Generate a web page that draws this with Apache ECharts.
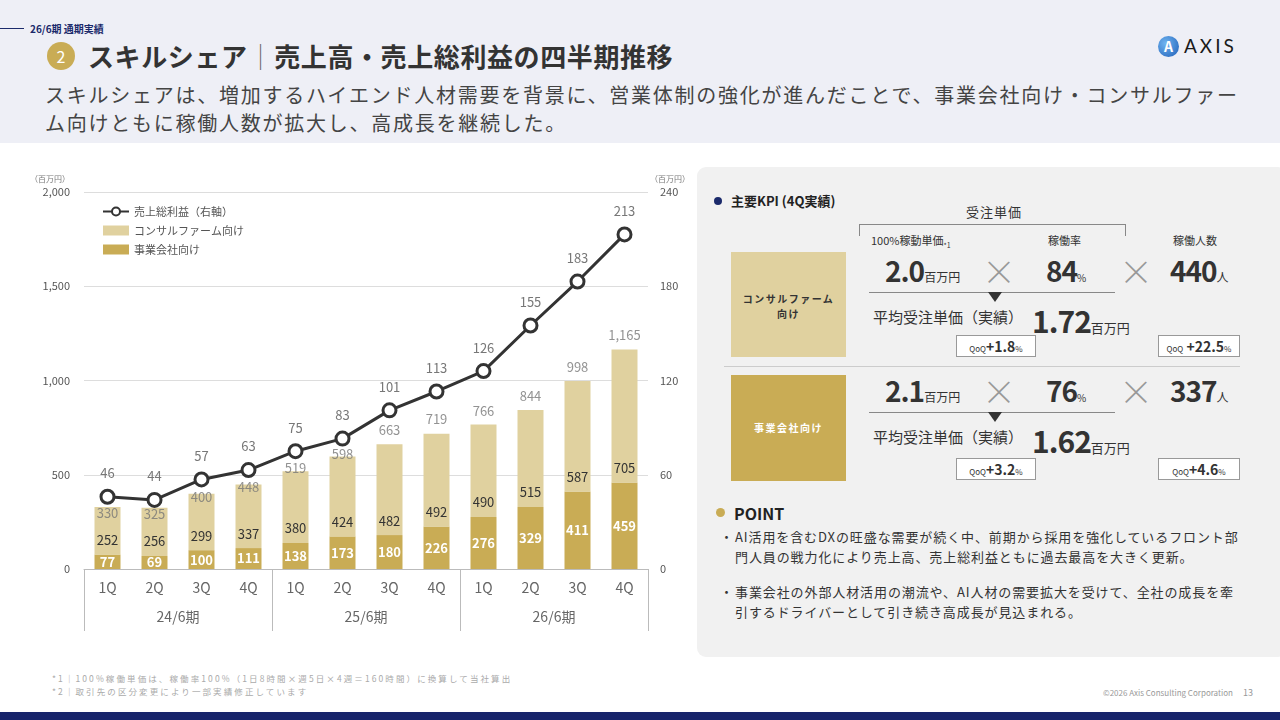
<!DOCTYPE html>
<html lang="ja">
<head>
<meta charset="utf-8">
<script src="https://cdn.jsdelivr.net/npm/echarts@6/dist/echarts.min.js"></script>
<style>
  html, body { margin:0; padding:0; width:1280px; height:720px; overflow:hidden; background:#fff;
    font-family:"Noto Sans CJK JP","Noto Sans",sans-serif; color:#333; }
  .abs { position:absolute; white-space:nowrap; }
  #header { position:absolute; left:0; top:0; width:1280px; height:143px; background:#eeeff6; }
  #panel { position:absolute; left:697px; top:167px; width:590px; height:490px; background:#f1f1f1; border-radius:9px; }
  #chart { position:absolute; left:0; top:150px; width:697px; height:500px; }
  .qoq { position:absolute; height:22px; width:80px; background:#fff; border:1px solid #999; box-sizing:border-box;
    text-align:center; line-height:20px; font-size:14px; font-weight:700; color:#333; }
  .qoq small { font-size:8px; font-weight:400; }
  .big { font-weight:700; font-size:28px; color:#333; letter-spacing:-1px; }
  .unit { font-size:12px; font-weight:400; color:#333; letter-spacing:0; }
  .times { font-size:34px; color:#999; font-weight:300; }
</style>
</head>
<body>
<div id="header"></div>
<div class="abs" style="left:0;top:28px;width:24px;height:1px;background:#1b2a6b;"></div>
<div class="abs" style="left:30px;top:21px;font-size:10px;font-weight:700;color:#1b2a6b;">26/6期 通期実績</div>
<div class="abs" style="left:47px;top:42px;width:28px;height:28px;border-radius:50%;background:#c9ac55;color:#fff;font-size:16px;line-height:28px;text-align:center;">2</div>
<div class="abs" style="left:88px;top:37px;font-size:26px;font-weight:700;color:#333;letter-spacing:0.6px;">スキルシェア<span style="font-weight:300;color:#666;">｜</span>売上高・売上総利益の四半期推移</div>
<div class="abs" style="left:45px;top:81px;font-size:20px;color:#444;letter-spacing:1.75px;line-height:28px;">スキルシェアは、増加するハイエンド人材需要を背景に、営業体制の強化が進んだことで、事業会社向け・コンサルファー<br>ム向けともに稼働人数が拡大し、高成長を継続した。</div>
<!-- logo -->
<div class="abs" style="left:1158px;top:36px;width:21px;height:21px;border-radius:50%;background:radial-gradient(circle at 35% 35%,#6fb4f0,#1f5fb8);color:#fff;font-size:14px;font-weight:700;line-height:21px;text-align:center;">A</div>
<div class="abs" style="left:1184px;top:34px;font-size:19px;color:#1a1a1a;letter-spacing:3px;font-family:'Lato','Noto Sans',sans-serif;">AXIS</div>

<div id="panel"></div>
<!-- KPI panel -->
<div class="abs" style="left:714px;top:197px;width:8px;height:8px;border-radius:50%;background:#1b2a6b;"></div>
<div class="abs" style="left:731px;top:191px;font-size:13px;font-weight:700;color:#222;">主要KPI (4Q実績)</div>
<div class="abs" style="left:966px;top:202px;font-size:13px;color:#333;letter-spacing:1px;">受注単価</div>
<div class="abs" style="left:859px;top:224px;width:267px;height:12px;border:1px solid #888;border-bottom:none;box-sizing:border-box;"></div>
<div class="abs" style="left:871px;top:232px;font-size:11px;color:#333;">100%稼動単価<sub style="font-size:7px;">*1</sub></div>
<div class="abs" style="left:1048px;top:232px;font-size:11px;color:#333;">稼働率</div>
<div class="abs" style="left:1173px;top:232px;font-size:11px;color:#333;">稼働人数</div>

<div class="abs" style="left:731px;top:252px;width:115px;height:105px;background:#e0d19f;"></div>
<div class="abs" style="left:731px;top:291px;width:115px;text-align:center;font-size:10px;font-weight:700;color:#333;line-height:15px;letter-spacing:1.5px;">コンサルファーム<br>向け</div>
<div class="abs big" style="left:885px;top:250px;">2.0<span class="unit">百万円</span></div>
<div class="abs times" style="left:982px;top:246px;">×</div>
<div class="abs big" style="left:1046px;top:250px;">84<span class="unit" style="font-size:10px;">%</span></div>
<div class="abs times" style="left:1119px;top:246px;">×</div>
<div class="abs big" style="left:1170px;top:250px;">440<span class="unit">人</span></div>
<div class="abs" style="left:869px;top:292px;width:246px;height:1px;background:#888;"></div>
<div class="abs" style="left:988px;top:292px;width:0;height:0;border-left:7px solid transparent;border-right:7px solid transparent;border-top:10px solid #333;"></div>
<div class="abs" style="left:873px;top:306px;font-size:15px;color:#333;">平均受注単価（実績）</div>
<div class="abs big" style="left:1032px;top:298px;font-size:30px;">1.72<span class="unit" style="font-size:13px;">百万円</span></div>
<div class="qoq" style="left:956px;top:335px;"><small>QoQ</small>+1.8<small>%</small></div>
<div class="qoq" style="left:1158px;top:335px;width:82px;"><small>QoQ</small> +22.5<small>%</small></div>

<div class="abs" style="left:724px;top:366px;width:516px;height:1px;background:#ccc;"></div>

<div class="abs" style="left:731px;top:375px;width:115px;height:106px;background:#c9ac55;"></div>
<div class="abs" style="left:731px;top:420px;width:115px;text-align:center;font-size:10px;font-weight:700;color:#fff;letter-spacing:1.5px;">事業会社向け</div>
<div class="abs big" style="left:885px;top:370px;">2.1<span class="unit">百万円</span></div>
<div class="abs times" style="left:982px;top:366px;">×</div>
<div class="abs big" style="left:1046px;top:370px;">76<span class="unit" style="font-size:10px;">%</span></div>
<div class="abs times" style="left:1119px;top:366px;">×</div>
<div class="abs big" style="left:1170px;top:370px;">337<span class="unit">人</span></div>
<div class="abs" style="left:869px;top:412px;width:246px;height:1px;background:#888;"></div>
<div class="abs" style="left:988px;top:412px;width:0;height:0;border-left:7px solid transparent;border-right:7px solid transparent;border-top:10px solid #333;"></div>
<div class="abs" style="left:873px;top:426px;font-size:15px;color:#333;">平均受注単価（実績）</div>
<div class="abs big" style="left:1032px;top:418px;font-size:30px;">1.62<span class="unit" style="font-size:13px;">百万円</span></div>
<div class="qoq" style="left:956px;top:458px;"><small>QoQ</small>+3.2<small>%</small></div>
<div class="qoq" style="left:1158px;top:458px;width:82px;"><small>QoQ</small>+4.6<small>%</small></div>

<div class="abs" style="left:716px;top:508px;width:9px;height:9px;border-radius:50%;background:#c9ac55;"></div>
<div class="abs" style="left:734px;top:501px;font-size:16px;font-weight:700;color:#222;">POINT</div>
<div class="abs" style="left:720px;top:527px;font-size:13px;color:#333;line-height:20px;">・</div>
<div class="abs" style="left:735px;top:527px;font-size:13px;color:#333;line-height:20px;letter-spacing:0.9px;">AI活用を含むDXの旺盛な需要が続く中、前期から採用を強化しているフロント部<br>門人員の戦力化により売上高、売上総利益ともに過去最高を大きく更新。</div>
<div class="abs" style="left:720px;top:582px;font-size:13px;color:#333;line-height:20px;">・</div>
<div class="abs" style="left:735px;top:582px;font-size:13px;color:#333;line-height:20px;letter-spacing:0.9px;">事業会社の外部人材活用の潮流や、AI人材の需要拡大を受けて、全社の成長を牽<br>引するドライバーとして引き続き高成長が見込まれる。</div>

<!-- footer -->
<div class="abs" style="left:52px;top:672px;font-size:8.5px;color:#aaa;line-height:13px;letter-spacing:2.1px;">*1｜100%稼働単価は、稼働率100%（1日8時間×週5日×4週＝160時間）に換算して当社算出<br>*2｜取引先の区分変更により一部実績修正しています</div>
<div class="abs" style="left:1103px;top:687px;font-size:8px;color:#999;">©2026 Axis Consulting Corporation</div>
<div class="abs" style="left:1243px;top:686px;font-size:9px;color:#999;">13</div>
<div class="abs" style="left:0;top:712px;width:1280px;height:8px;background:#17246b;"></div>

<div id="chart"></div>
<script>
// ---- data ----
const quarters = ['1Q','2Q','3Q','4Q','1Q','2Q','3Q','4Q','1Q','2Q','3Q','4Q'];
const fiscalYears = ['24/6期','25/6期','26/6期'];
const consultingRevenue = [252, 256, 299, 337, 380, 424, 482, 492, 490, 515, 587, 705];
const businessRevenue = [77, 69, 100, 111, 138, 173, 180, 226, 276, 329, 411, 459];
const totalRevenue = [330, 325, 400, 448, 519, 598, 663, 719, 766, 844, 998, 1165];
const grossProfit = [46, 44, 57, 63, 75, 83, 101, 113, 126, 155, 183, 213];
const leftTicks = {min:0, max:2000, interval:500};
const rightTicks = {min:0, max:240, interval:60};
// label nudges (style only) so early totals avoid the line
const totalLabelShift = [20, 20, 17, 17, 11, 12, 0, 0, 0, 0, 0, 0];

const C_BUS = '#c9ac55', C_CON = '#e0d19f';
const font = '"Noto Sans CJK JP","Noto Sans",sans-serif';
const chart = echarts.init(document.getElementById('chart'), null, {renderer:'canvas'});
chart.setOption({
  backgroundColor:'transparent',
  animation:false,
  textStyle:{fontFamily:font},
  grid:{left:84, right:49, top:42, bottom:81, containLabel:false},
  legend:{
    orient:'vertical', left:97, top:51, itemWidth:26, itemHeight:10, itemGap:8,
    textStyle:{fontSize:11, color:'#555', fontFamily:font},
    data:[
      {name:'売上総利益（右軸）'},
      {name:'コンサルファーム向け', icon:'rect'},
      {name:'事業会社向け', icon:'rect'}
    ]
  },
  xAxis:[
    {type:'category', data:quarters, position:'bottom',
     axisLine:{lineStyle:{color:'#bbb'}}, axisTick:{show:false},
     axisLabel:{fontSize:14, color:'#666', margin:12}},
    {type:'category', data:fiscalYears, position:'bottom',
     axisLine:{show:false},
     axisTick:{show:true, length:62, lineStyle:{color:'#bbb'}},
     axisLabel:{fontSize:14, color:'#666', margin:41}}
  ],
  yAxis:[
    {type:'value', min:leftTicks.min, max:leftTicks.max, interval:leftTicks.interval,
     name:'（百万円）', nameLocation:'end', nameGap:9,
     nameTextStyle:{fontSize:8, color:'#777', align:'right', padding:[0,14,0,0]},
     axisLine:{show:false}, axisTick:{show:false},
     axisLabel:{fontSize:11, color:'#555', margin:14},
     splitLine:{lineStyle:{color:'#ddd'}}},
    {type:'value', min:rightTicks.min, max:rightTicks.max, interval:rightTicks.interval,
     name:'（百万円）', nameLocation:'end', nameGap:9,
     nameTextStyle:{fontSize:8, color:'#777', align:'left', padding:[0,0,0,2]},
     axisLine:{show:false}, axisTick:{show:false},
     axisLabel:{fontSize:11, color:'#555', margin:12},
     splitLine:{show:false}}
  ],
  series:[
    {name:'事業会社向け', type:'bar', stack:'rev', barWidth:26, data:businessRevenue,
     itemStyle:{color:C_BUS},
     label:{show:true, position:'inside', color:'#fff', fontSize:13, fontWeight:'bold'}},
    {name:'コンサルファーム向け', type:'bar', stack:'rev', barWidth:26, data:consultingRevenue,
     itemStyle:{color:C_CON},
     label:{show:true, position:'insideBottom', distance:8, color:'#333', fontSize:13}},
    {name:'合計', type:'scatter', data:totalRevenue.map((v,i)=>({value:v,
        label:{offset:[0, totalLabelShift[i]]}})),
     symbol:'circle', symbolSize:1, itemStyle:{color:'rgba(0,0,0,0)'}, z:3,
     label:{show:true, position:'top', distance:7, color:'#777', fontSize:13,
       formatter:p=>p.value.toLocaleString('en-US')}},
    {name:'売上総利益（右軸）', type:'line', yAxisIndex:1, data:grossProfit, z:5,
     symbol:'circle', symbolSize:13,
     lineStyle:{color:'#333', width:3},
     itemStyle:{color:'#fff', borderColor:'#333', borderWidth:3},
     label:{show:true, position:'top', distance:9, color:'#777', fontSize:13}}
  ]
});
</script>
</body>
</html>
